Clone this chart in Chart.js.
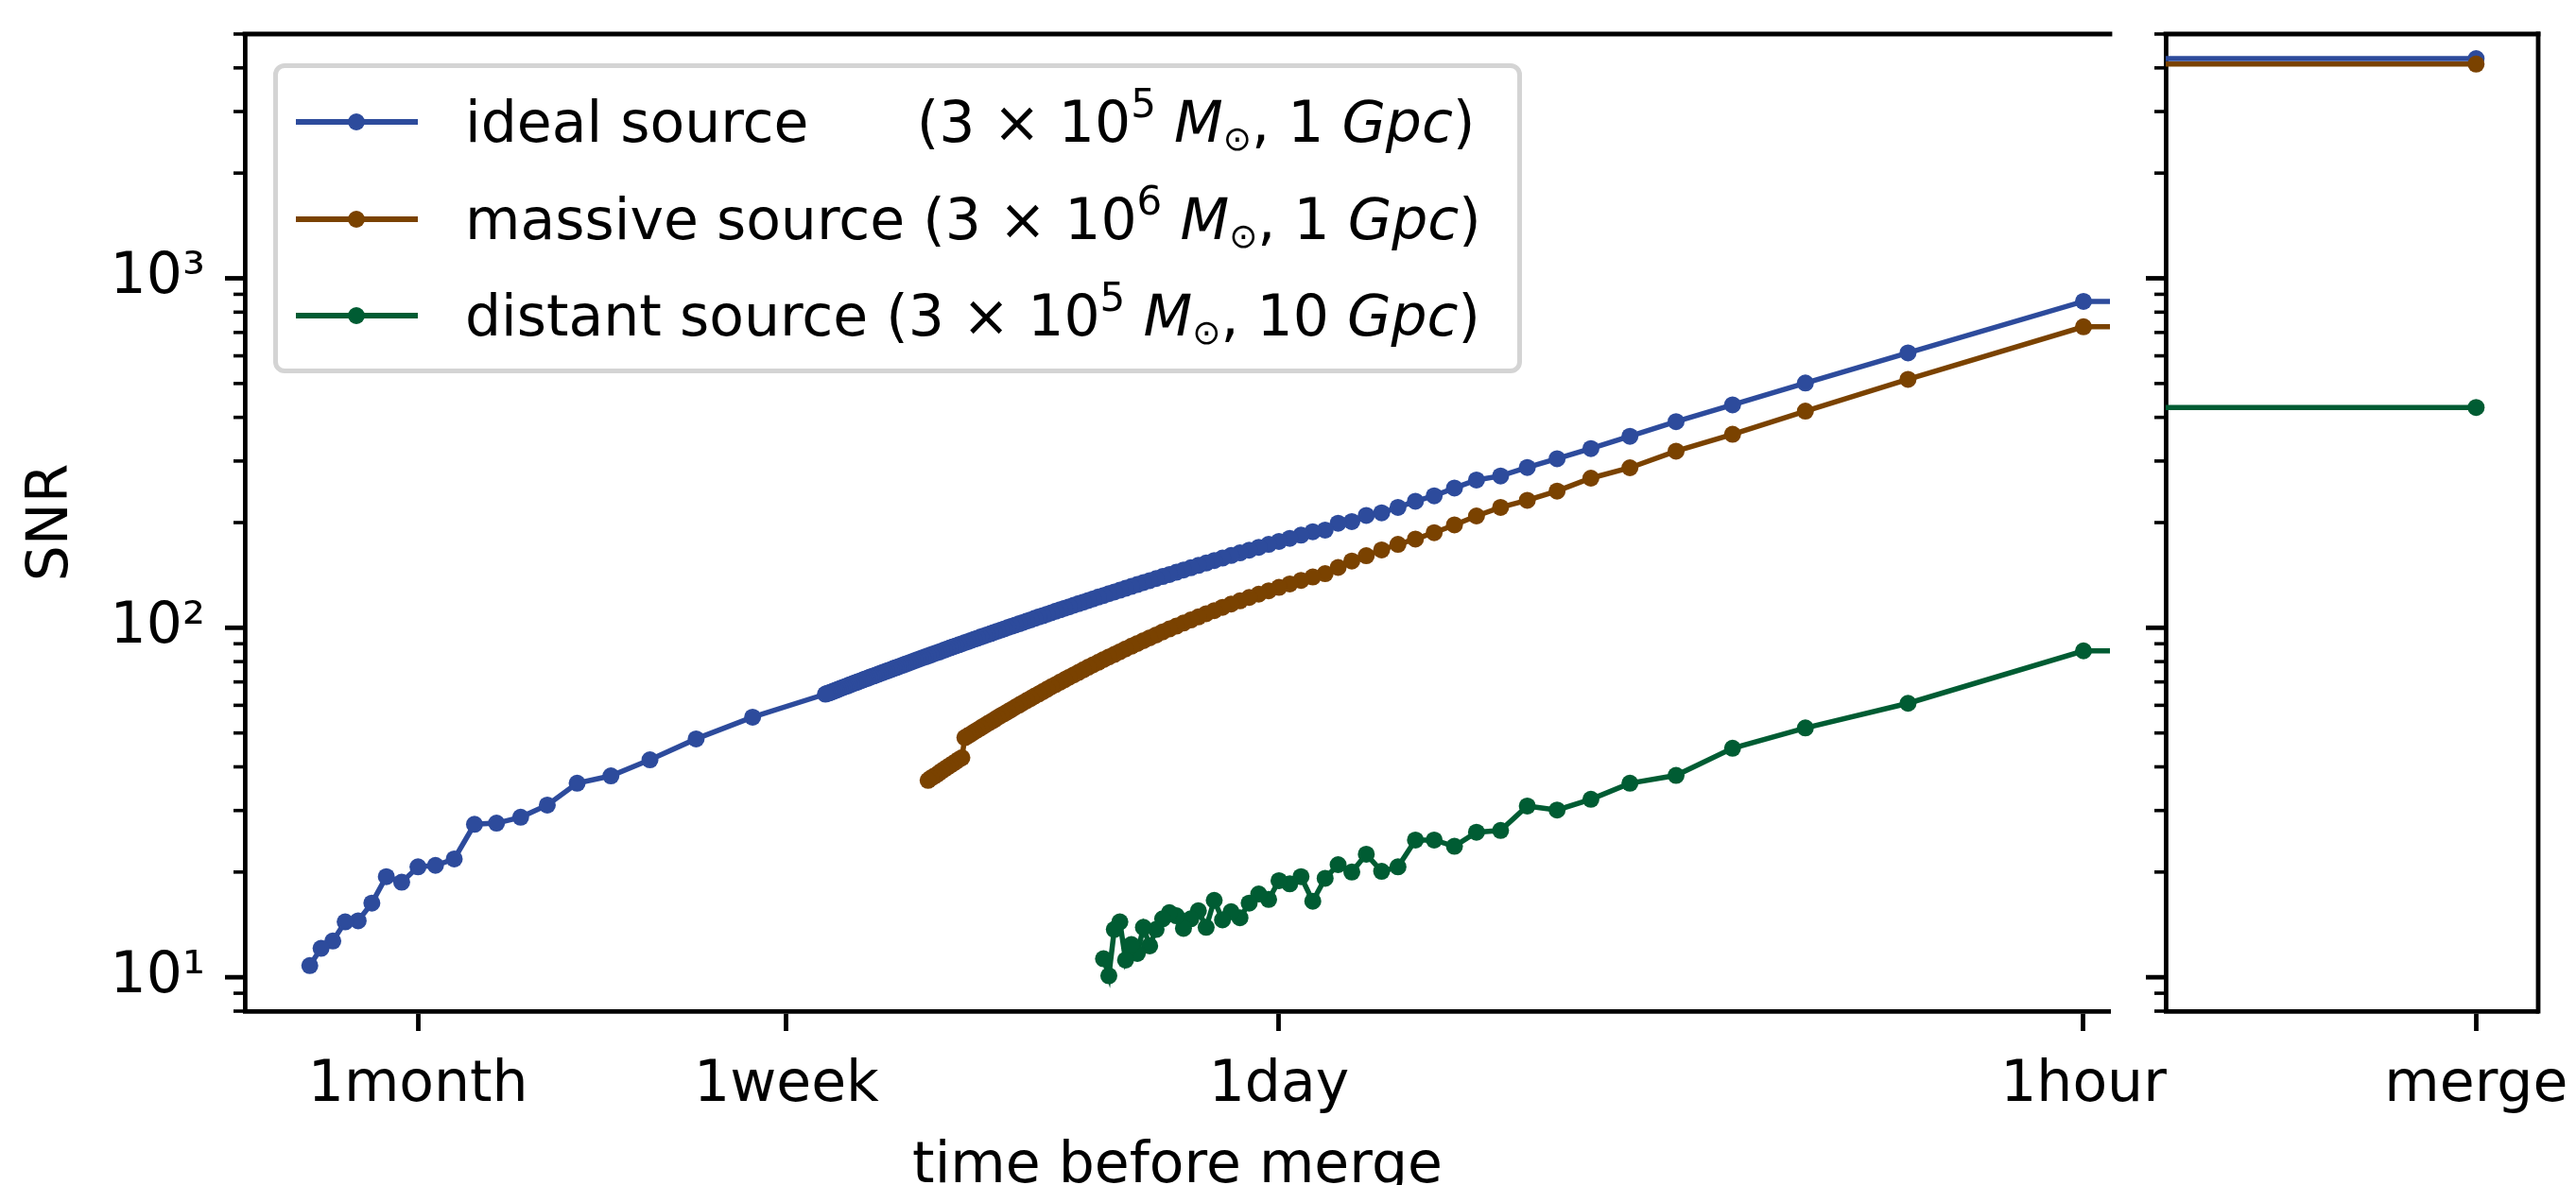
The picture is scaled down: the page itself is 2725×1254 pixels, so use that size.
<!DOCTYPE html>
<html>
<head>
<meta charset="utf-8">
<script src="https://cdn.jsdelivr.net/npm/chart.js@4.4.1/dist/chart.umd.min.js"></script>
<style>
  html, body { margin: 0; padding: 0; background: #fff; width: 2725px; height: 1254px; overflow: hidden; font-family: "DejaVu Sans"; }
  #main { position: absolute; left: 0; top: 0; }
  #side { position: absolute; left: 2240px; top: 0; }
  #legend { position: absolute; left: 289px; top: 67px; width: 1321px; height: 328px; box-sizing: border-box;
            border: 5px solid #d4d4d4; border-radius: 12px; background: rgba(255,255,255,0.8); }
  .row { position: absolute; left: 0; height: 72px; line-height: 72px; width: 100%; }
  .ln { position: absolute; left: 19px; width: 129px; height: 6px; top: 33px; }
  .mk { position: absolute; left: 74px; width: 18px; height: 18px; top: 27px; border-radius: 50%; }
  .tx { position: absolute; left: 198px; top: 0; font-size: 60px; white-space: pre; color: #000; font-family: "DejaVu Sans"; }
  .tx sup { font-size: 42px; vertical-align: 26px; line-height: 0; }
  .tx sub { font-size: 36px; vertical-align: -9px; line-height: 0; }
</style>
</head>
<body>
<canvas id="main" width="2300" height="1254" style="width:2300px;height:1254px"></canvas>
<canvas id="side" width="485" height="1254" style="width:485px;height:1254px"></canvas>
<div id="legend"></div>
<script>
// ---------------- data ----------------
const seriesNames = ['ideal source      ', 'massive source ', 'distant source '];
const seriesMassExp = [5, 6, 5];
const seriesDistGpc = [1, 1, 10];
const seriesColors = ['#2d4b9c', '#7a4200', '#005c33'];

// hours before merge
const blueHours = [1,2,3,4,5,6,7,8,9,10,11,12,13,14,15,16,17,18,19,20,21,22,23,24,25,26,27,28,29,30,
  31,32,33,34,35,36,37,38,39,40,41,42,43,44,45,46,47,48,49,50,51,52,53,54,55,56,57,58,59,60,
  61,62,63,64,65,66,67,68,69,70,71,72,73,74,75,76,77,78,79,80,81,82,83,84,85,86,87,88,89,90,
  91,92,93,94,95,96,97,98,99,100,101,102,103,104,105,106,107,108,109,110,111,112,113,114,115,116,117,118,119,120,
  121,122,123,124,125,126,127,128,129,130,131,132,133,134,135,136,137,138,139,140,141,142,143,144,
  192,240,288,336,384,432,480,528,576,624,672,720,768,816,864,912,960,1008,1056,1104];
const blueSNR = [858.6,611.7,501.6,434.4,389.0,353.2,325.7,304.7,287.5,271.9,264.7,251.2,238.5,230.2,221.0,213.2,209.7,201.3,199.1,190.3,188.3,
  184.1,180.3,176.6,173.2,169.9,166.8,163.8,161.0,158.3,
  155.7,153.2,150.8,148.5,146.3,144.2,142.1,140.2,138.3,136.4,
  134.7,133.0,131.3,129.7,128.1,126.6,125.2,123.7,122.4,121.0,
  119.7,118.4,117.2,116.0,114.8,113.7,112.6,111.5,110.4,109.4,
  108.3,107.4,106.4,105.4,104.5,103.6,102.7,101.8,101.0,100.2,
  99.3,98.5,97.8,97.0,96.2,95.5,94.8,94.1,93.3,92.7,
  92.0,91.3,90.7,90.0,89.4,88.8,88.2,87.6,87.0,86.4,
  85.8,85.2,84.7,84.2,83.6,83.1,82.6,82.1,81.6,81.1,
  80.6,80.1,79.6,79.1,78.7,78.2,77.8,77.3,76.9,76.5,
  76.0,75.6,75.2,74.8,74.4,74.0,73.6,73.2,72.8,72.5,
  72.1,71.7,71.4,71.0,70.6,70.3,69.9,69.6,69.3,68.9,
  68.6,68.2,67.9,67.6,67.3,67.0,66.6,66.3,66.0,65.7,
  65.4,65.1,64.9,64.6,
  55.5,48.1,41.9,37.7,35.9,31.1,28.7,27.6,27.4,21.8,20.9,20.7,18.7,19.4,16.3,14.5,14.4,12.7,12.1,10.8];

const brownHours = [1,2,3,4,5,6,7,8,9,10,11,12,13,14,15,16,17,18,19,20,21,22,23,24,25,26,27,28,29,30,
  31,32,33,34,35,36,37,38,39,40,41,42,43,44,45,46,47,48,49,50,51,52,53,54,55,56,57,58,59,60,
  61,62,63,64,65,66,67,68,69,70,71,72,73,74,75,76,77,78,79,80,81,82,83,84,85,86,87,88,89,90,
  91,92,93,94,95,96];
const brownSNR = [726.3,514.0,416.7,357.7,320.1,287.0,268.0,246.1,231.6,221.0,208.9,197.0,187.1,179.4,173.3,167.0,160.8,155.2,148.8,142.8,139.8,
  136.6,133.5,130.5,127.6,124.8,122.1,119.4,116.9,114.4,
  112.0,109.7,107.4,105.3,103.2,101.1,99.2,97.3,95.4,93.6,
  91.9,90.2,88.6,87.0,85.4,83.9,82.5,81.1,79.7,78.4,
  77.1,75.8,74.5,73.3,72.2,71.0,69.9,68.8,67.8,66.7,
  65.7,64.7,63.8,62.8,61.9,61.0,60.1,59.3,58.4,57.6,
  56.8,56.1,55.3,54.5,53.8,53.1,52.4,51.7,51.0,50.4,
  49.7,49.1,48.5,
  42.5,42.0,41.4,40.9,40.4,39.9,39.4,38.9,38.4,37.9,37.5,37.1,36.6];

const greenHours = [1,2,3,4,5,6,7,8,9,10,11,12,13,14,15,16,17,18,19,20,21,22,23,24,25,26,27,28,29,30,
  31,32,33,34,35,36,37,38,39,40,41,42,43,44,45,46,47,48];
const greenSNR = [85.9,60.8,51.7,45.2,37.8,35.9,32.3,30.1,30.9,26.3,26.0,23.7,24.7,24.7,20.7,20.1,22.5,20.0,21.0,19.2,
  16.5,19.4,18.5,18.9,16.7,17.3,16.3,14.8,15.4,14.6,16.6,13.9,15.5,14.7,13.8,15.0,15.3,14.7,13.7,12.3,
  13.9,11.7,12.4,11.2,14.4,13.7,10.1,11.3];

// SNR at merge (right panel)
const mergeSNR = [4250, 4100, 427];

// ticks
const xTickHours = [720, 168, 24, 1];
const xTickLabels = ['1month', '1week', '1day', '1hour'];
const yMajorTicks = [10, 100, 1000];
const yMajorLabels = ['10\u00B9', '10\u00B2', '10\u00B3'];
const yMantissas = [1, 2, 3, 4, 5, 6, 7, 8, 9];
const yDecades = [1, 10, 100, 1000];

// axis limits
const Y_MIN = 8, Y_MAX = 5000;
const X_MIN_H = 0.9007, X_MAX_H = 1427;
const TAIL_H = 0.5;          // line continues toward merge (off the left panel)
const SIDE_MIN = -1, SIDE_MAX = 0.2, SIDE_PRE = -2, MERGE_X = 0;

// ---------------- helpers ----------------
const FONT = 'DejaVu Sans';
Chart.defaults.font.family = FONT;
Chart.defaults.font.size = 60;
Chart.defaults.color = '#000';

const yTicks = [];
yDecades.forEach(d => yMantissas.forEach(m => { const v = m * d; if (v >= Y_MIN && v <= Y_MAX) yTicks.push(v); }));

const axisDecor = {
  id: 'axisDecor',
  afterDraw(chart, args, opts) {
    const {ctx, chartArea: a} = chart;
    const y = chart.scales.y;
    ctx.save();
    ctx.strokeStyle = '#000';
    ctx.lineCap = 'butt';
    y.ticks.forEach(t => {
      const p = y.getPixelForValue(t.value);
      const major = yMajorTicks.includes(t.value);
      ctx.lineWidth = major ? 4.8 : 3.6;
      const len = major ? 21 : 12;
      ctx.beginPath(); ctx.moveTo(a.left - len, p); ctx.lineTo(a.left, p); ctx.stroke();
    });
    ctx.lineWidth = 4.8;
    ctx.lineCap = 'square';
    (opts.sides || []).forEach(s => {
      ctx.beginPath();
      if (s === 'top') { ctx.moveTo(a.left, a.top); ctx.lineTo(a.right, a.top); }
      if (s === 'right') { ctx.moveTo(a.right, a.top); ctx.lineTo(a.right, a.bottom); }
      ctx.stroke();
    });
    ctx.restore();
  }
};

const fixSize = (w, h) => s => {
  if (w !== null) s.width = w;
  if (h !== null) s.height = h;
  s.paddingTop = 0; s.paddingBottom = 0; s.paddingLeft = 0; s.paddingRight = 0;
};

function seriesData(hours, snr) {
  const pts = [{x: TAIL_H, y: snr[0]}];
  hours.forEach((h, i) => pts.push({x: h, y: snr[i]}));
  return pts;
}

const lineStyle = (i) => ({
  borderColor: seriesColors[i],
  backgroundColor: seriesColors[i],
  pointBackgroundColor: seriesColors[i],
  pointBorderColor: seriesColors[i],
  pointBorderWidth: 0,
  pointRadius: ctx => ctx.dataIndex === 0 ? 0 : 9,
  borderWidth: 5.5,
  tension: 0,
  fill: false,
  order: 3 - i
});

const yAxisBase = (width, showLabels) => ({
  type: 'logarithmic',
  min: Y_MIN, max: Y_MAX,
  afterBuildTicks: s => { s.ticks = yTicks.map(v => ({value: v})); },
  afterFit: fixSize(width, null),
  ticks: {
    display: showLabels, autoSkip: false, padding: 21,
    font: {family: FONT, size: 60}, color: '#000',
    callback: v => { const k = yMajorTicks.indexOf(v); return k >= 0 ? yMajorLabels[k] : ''; }
  },
  grid: {display: true, drawOnChartArea: false, drawTicks: true, tickLength: 21, tickColor: 'rgba(0,0,0,0)'},
  border: {display: true, width: 4.8, color: '#000'}
});

// ---------------- main panel ----------------
const datasets = [
  seriesData(blueHours, blueSNR),
  seriesData(brownHours, brownSNR),
  seriesData(greenHours, greenSNR)
].map((d, i) => Object.assign({label: seriesNames[i].trim(), data: d}, lineStyle(i)));

new Chart(document.getElementById('main'), {
  type: 'line',
  data: {datasets},
  options: {
    responsive: false, animation: false, devicePixelRatio: 1,
    layout: {autoPadding: false, padding: {top: 36, right: 68, left: 0, bottom: 0}},
    plugins: {legend: {display: false}, tooltip: {enabled: false}, axisDecor: {sides: ['top']}},
    scales: {
      x: {
        type: 'logarithmic', reverse: true, min: X_MIN_H, max: X_MAX_H,
        afterBuildTicks: s => { s.ticks = xTickHours.map(v => ({value: v})); },
        afterFit: fixSize(null, 184),
        ticks: {autoSkip: false, maxRotation: 0, minRotation: 0, padding: 22,
                font: {family: FONT, size: 60}, color: '#000',
                callback: (v) => xTickLabels[xTickHours.indexOf(v)]},
        grid: {display: true, drawOnChartArea: false, drawTicks: true, tickLength: 21, tickWidth: 4.8, tickColor: '#000'},
        border: {display: true, width: 4.8, color: '#000'},
        title: {display: true, text: 'time before merge', color: '#000', font: {family: FONT, size: 60}, padding: {top: 0, bottom: -17}}
      },
      y: Object.assign(yAxisBase(259, true), {
        title: {display: true, text: 'SNR', color: '#000', font: {family: FONT, size: 60}, padding: {top: 19, bottom: 0}}
      })
    }
  },
  plugins: [axisDecor]
});

// ---------------- merge panel ----------------
const sideSets = mergeSNR.map((v, i) => Object.assign({
  label: seriesNames[i].trim(),
  data: [{x: SIDE_PRE, y: v}, {x: MERGE_X, y: v}]
}, lineStyle(i)));

new Chart(document.getElementById('side'), {
  type: 'line',
  data: {datasets: sideSets},
  options: {
    responsive: false, animation: false, devicePixelRatio: 1,
    layout: {autoPadding: false, padding: {top: 36, right: 40, left: 0, bottom: 0}},
    plugins: {legend: {display: false}, tooltip: {enabled: false}, axisDecor: {sides: ['top', 'right']}},
    scales: {
      x: {
        type: 'linear', min: SIDE_MIN, max: SIDE_MAX,
        afterBuildTicks: s => { s.ticks = [{value: MERGE_X}]; },
        afterFit: fixSize(null, 184),
        ticks: {autoSkip: false, maxRotation: 0, minRotation: 0, padding: 22,
                font: {family: FONT, size: 60}, color: '#000', callback: () => 'merge'},
        grid: {display: true, drawOnChartArea: false, drawTicks: true, tickLength: 21, tickWidth: 4.8, tickColor: '#000'},
        border: {display: true, width: 4.8, color: '#000'}
      },
      y: yAxisBase(51, false)
    }
  },
  plugins: [axisDecor]
});

// ---------------- legend (HTML, for mixed italic / super-/subscripts) ----------------
const legend = document.getElementById('legend');
const rowCenters = [57, 160, 262];
seriesNames.forEach((name, i) => {
  const row = document.createElement('div');
  row.className = 'row';
  row.style.top = (rowCenters[i] - 36) + 'px';
  row.innerHTML =
    '<span class="ln" style="background:' + seriesColors[i] + '"></span>' +
    '<span class="mk" style="background:' + seriesColors[i] + '"></span>' +
    '<span class="tx">' + name + '(3 \u00D7 10<sup>' + seriesMassExp[i] + '</sup> <i>M</i><sub>\u2299</sub>, ' +
    seriesDistGpc[i] + ' <i>Gpc</i>)</span>';
  legend.appendChild(row);
});
</script>
</body>
</html>
